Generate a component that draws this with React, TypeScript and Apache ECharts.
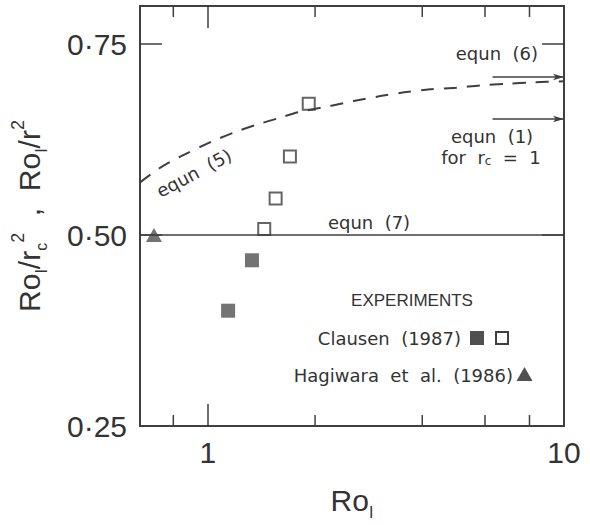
import React, { useEffect, useRef } from "react";
import * as echarts from "echarts";

// ---- data ----
const xMin = 0.645;
const xMax = 10;
const yMin = 0.25;
const yMax = 0.8;
const yTickValues = [0.25, 0.5, 0.75];
const xLabelValues = [1, 10];
const xMinorTicks = [0.8, 2, 4, 6, 8];

const curve5X = [0.645, 0.734, 0.847, 1.01, 1.178, 1.358, 1.575, 1.794, 2.205, 2.59, 3.05, 3.56, 4.21, 4.98, 5.82, 6.88, 8.2, 10];
const curve5Y = [0.569, 0.588, 0.604, 0.621, 0.634, 0.644, 0.653, 0.661, 0.669, 0.676, 0.682, 0.687, 0.691, 0.693, 0.696, 0.698, 0.7, 0.7015];

const equn7X = [0.645, 10];
const equn7Y = [0.5, 0.5];

const arrowStartX = 6.3;
const equn6Y = 0.707;
const equn1Y = 0.652;

const clausenFilledX = [1.14, 1.33];
const clausenFilledY = [0.401, 0.467];
const clausenOpenX = [1.44, 1.55, 1.70, 1.92];
const clausenOpenY = [0.508, 0.548, 0.603, 0.672];
const hagiwaraX = [0.706];
const hagiwaraY = [0.5];

const INK = "#3f3f3f";
const TXT = "#333";
const SANS = "'Liberation Sans', Arial, sans-serif";
const ANN = "'DejaVu Sans', sans-serif";

const zip = (xs: number[], ys: number[]) => xs.map((x, i) => [x, ys[i]]);

export default function App() {
  const ref = useRef<HTMLDivElement>(null);
  useEffect(() => {
    if (!ref.current) return;
    const chart = echarts.init(ref.current, null, { renderer: "svg" });

    const yAxisBase = {
      type: "value",
      min: yMin,
      max: yMax,
      interval: 0.25,
      splitLine: { show: false },
      axisLine: { show: true, lineStyle: { color: INK, width: 2 } },
      axisTick: { show: true, inside: true, length: 22, lineStyle: { color: INK, width: 1.5 } },
    };
    const xAxisBase = {
      type: "log",
      logBase: 10,
      min: xMin,
      max: xMax,
      splitLine: { show: false },
      axisLine: { show: true, lineStyle: { color: INK, width: 2 } },
      axisTick: { show: true, inside: true, length: 22, lineStyle: { color: INK, width: 1.5 } },
    };

    const option = {
      animation: false,
      backgroundColor: "#ffffff",
      grid: { left: 140, right: 26, top: 6, bottom: 93 },
      xAxis: [
        {
          ...xAxisBase,
          position: "bottom",
          name: "{n|Ro}{s|I}",
          nameLocation: "middle",
          nameGap: 54,
          nameTextStyle: {
            rich: {
              n: { fontSize: 30, fontFamily: SANS, color: TXT, lineHeight: 40 },
              s: { fontSize: 16, fontFamily: SANS, color: TXT, lineHeight: 16, verticalAlign: "bottom" },
            },
          },
          axisLabel: {
            show: true,
            margin: 11,
            fontSize: 30,
            fontFamily: SANS,
            color: TXT,
            formatter: (v: number) => {
              const hit = xLabelValues.find((t) => Math.abs(v - t) < 1e-6);
              return hit !== undefined ? String(hit) : "";
            },
          },
        },
        { ...xAxisBase, position: "top", axisLabel: { show: false } },
      ],
      yAxis: [
        {
          ...yAxisBase,
          position: "left",
          name: "{n|Ro}{s|I}{n|/r}{s|c}{p|2}{n|  ,  Ro}{s|I}{n|/r}{p|2}",
          nameLocation: "middle",
          nameGap: 91,
          nameTextStyle: {
            rich: {
              n: { fontSize: 30, fontFamily: SANS, color: TXT, lineHeight: 40 },
              s: { fontSize: 16, fontFamily: SANS, color: TXT, lineHeight: 16, verticalAlign: "bottom" },
              p: { fontSize: 18, fontFamily: SANS, color: TXT, lineHeight: 18, verticalAlign: "top" },
            },
          },
          axisLabel: {
            show: true,
            margin: 13,
            fontSize: 30,
            fontFamily: SANS,
            color: TXT,
            formatter: (v: number) =>
              yTickValues.some((t) => Math.abs(v - t) < 1e-6) ? v.toFixed(2).replace(".", "\u00b7") : "",
          },
        },
        { ...yAxisBase, position: "right", axisLabel: { show: false } },
      ],
      series: [
        {
          name: "equn (5)",
          type: "line",
          data: zip(curve5X, curve5Y),
          smooth: 0.3,
          showSymbol: false,
          symbol: "none",
          lineStyle: { color: INK, width: 2, type: [13, 10] },
          silent: true,
        },
        {
          name: "equn (7)",
          type: "line",
          data: zip(equn7X, equn7Y),
          showSymbol: false,
          symbol: "none",
          lineStyle: { color: INK, width: 1.5 },
          silent: true,
          markLine: {
            silent: true,
            symbol: ["none", "arrow"],
            symbolSize: [5, 11],
            label: { show: false },
            lineStyle: { color: INK, width: 1.5, type: "solid" },
            data: [
              [{ coord: [arrowStartX, equn6Y] }, { coord: [xMax, equn6Y] }],
              [{ coord: [arrowStartX, equn1Y] }, { coord: [xMax, equn1Y] }],
            ],
          },
        },
        {
          name: "Clausen filled",
          type: "scatter",
          data: zip(clausenFilledX, clausenFilledY),
          symbol: "rect",
          symbolSize: 14,
          itemStyle: { color: "#505050" },
          silent: true,
        },
        {
          name: "Clausen open",
          type: "scatter",
          data: zip(clausenOpenX, clausenOpenY),
          symbol: "rect",
          symbolSize: 12,
          itemStyle: { color: "#ffffff", borderColor: INK, borderWidth: 2 },
          silent: true,
        },
        {
          name: "Hagiwara",
          type: "scatter",
          data: zip(hagiwaraX, hagiwaraY),
          symbol: "triangle",
          symbolSize: [16, 14],
          itemStyle: { color: "#505050" },
          silent: true,
        },
        {
          name: "minor ticks",
          type: "custom",
          data: xMinorTicks.map((v) => [v, yMin]),
          silent: true,
          renderItem: (_p: any, api: any) => {
            const v = api.value(0);
            const b = api.coord([v, yMin]);
            const t = api.coord([v, yMax]);
            return {
              type: "group",
              children: [
                { type: "line", shape: { x1: b[0], y1: b[1], x2: b[0], y2: b[1] - 11 }, style: { stroke: INK, lineWidth: 1.5 } },
                { type: "line", shape: { x1: t[0], y1: t[1], x2: t[0], y2: t[1] + 11 }, style: { stroke: INK, lineWidth: 1.5 } },
              ],
            };
          },
        },
      ],
      graphic: [
        { type: "text", x: 538, y: 53, style: { text: "equn  (6)", fontSize: 18, fontFamily: ANN, fill: TXT, align: "right", verticalAlign: "middle" } },
        { type: "text", x: 492, y: 136, style: { text: "equn  (1)", fontSize: 18, fontFamily: ANN, fill: TXT, align: "center", verticalAlign: "middle" } },
        {
          type: "text", x: 491, y: 157,
          style: {
            text: "{a|for  r}{s|c}{a|  =  1}",
            align: "center", verticalAlign: "middle",
            rich: {
              a: { fontSize: 18, fontFamily: ANN, fill: TXT, lineHeight: 19 },
              s: { fontSize: 12, fontFamily: ANN, fill: TXT, lineHeight: 10, verticalAlign: "bottom" },
            },
          },
        },
        { type: "text", x: 369, y: 222, style: { text: "equn  (7)", fontSize: 18, fontFamily: ANN, fill: TXT, align: "center", verticalAlign: "middle" } },
        { type: "text", x: 194, y: 173, rotation: 0.49, style: { text: "equn  (5)", fontSize: 18, fontFamily: ANN, fill: TXT, align: "center", verticalAlign: "middle" } },
        { type: "text", x: 412, y: 300, style: { text: "EXPERIMENTS", fontSize: 17, fontFamily: SANS, fill: TXT, align: "center", verticalAlign: "middle" } },
        { type: "text", x: 461, y: 338, style: { text: "Clausen  (1987)", fontSize: 18, fontFamily: ANN, fill: TXT, align: "right", verticalAlign: "middle" } },
        { type: "rect", shape: { x: 470, y: 331, width: 14, height: 14 }, style: { fill: "#505050" } },
        { type: "rect", shape: { x: 496, y: 332, width: 12, height: 12 }, style: { fill: "#fff", stroke: INK, lineWidth: 2 } },
        { type: "text", x: 513, y: 375, style: { text: "Hagiwara  et  al.  (1986)", fontSize: 18, fontFamily: ANN, fill: TXT, align: "right", verticalAlign: "middle" } },
        { type: "polygon", shape: { points: [[524.5, 367], [532.5, 381], [516.5, 381]] }, style: { fill: "#505050" } },
      ],
    };

    chart.setOption(option as any);
    return () => chart.dispose();
  }, []);

  return (
    <div
      ref={ref}
      style={{ position: "fixed", left: 0, top: 0, width: 590, height: 525, background: "#fff" }}
    />
  );
}
